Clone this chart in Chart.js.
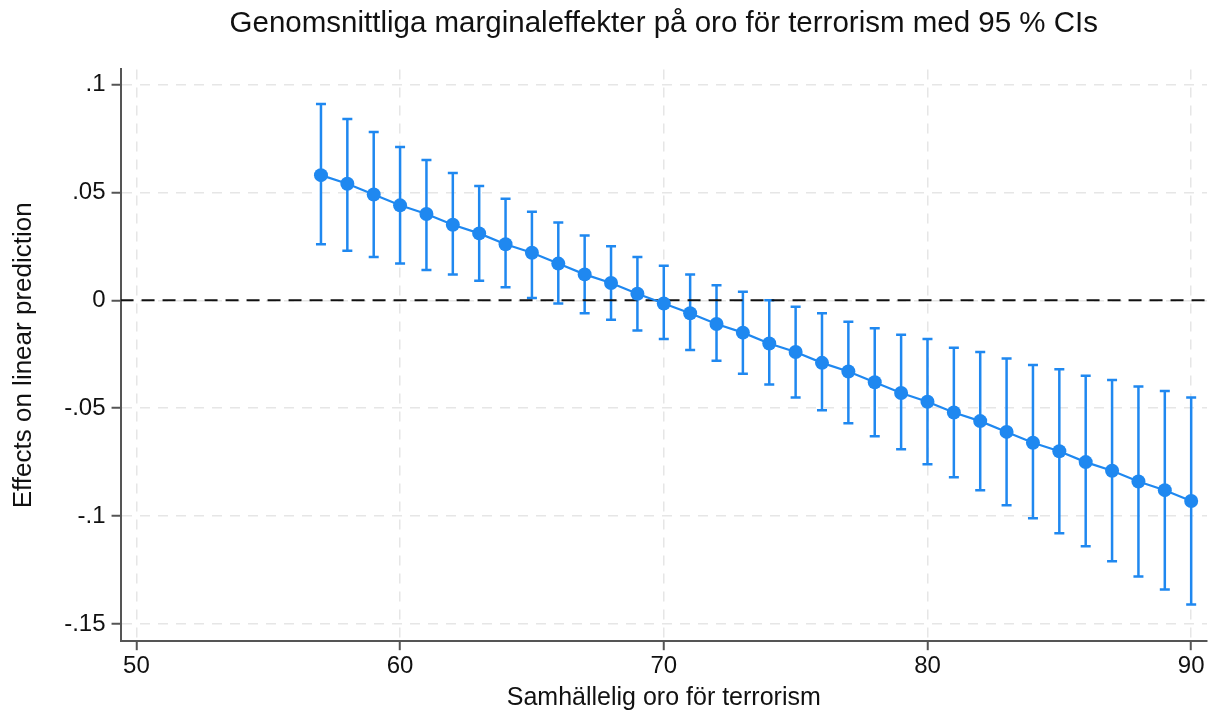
<!DOCTYPE html>
<html>
<head>
<meta charset="utf-8">
<script src="https://cdn.jsdelivr.net/npm/chart.js@4.4.1/dist/chart.umd.min.js"></script>
<style>
  body { margin: 0; background: #fff; }
  .chart { width: 1216px; height: 718px; }
</style>
</head>
<body>
<div class="chart"><canvas id="myChart" width="1216" height="718"></canvas></div>
<script>
const oro = [57, 58, 59, 60, 61, 62, 63, 64, 65, 66, 67, 68, 69, 70, 71, 72, 73,
             74, 75, 76, 77, 78, 79, 80, 81, 82, 83, 84, 85, 86, 87, 88, 89, 90];
const effekt = [0.058, 0.054, 0.049, 0.044, 0.040, 0.035, 0.031, 0.026, 0.022, 0.017,
                0.012, 0.008, 0.003, -0.0015, -0.006, -0.011, -0.015, -0.020, -0.024, -0.029,
                -0.033, -0.038, -0.043, -0.047, -0.052, -0.056, -0.061, -0.066, -0.070, -0.075,
                -0.079, -0.084, -0.088, -0.093];
const ciUpper = [0.091, 0.084, 0.078, 0.071, 0.065, 0.059, 0.053, 0.047, 0.041, 0.036,
                 0.030, 0.025, 0.020, 0.016, 0.012, 0.007, 0.004, 0.000, -0.003, -0.006,
                 -0.010, -0.013, -0.016, -0.018, -0.022, -0.024, -0.027, -0.030, -0.032, -0.035,
                 -0.037, -0.040, -0.042, -0.045];
const ciLower = [0.026, 0.023, 0.020, 0.017, 0.014, 0.012, 0.009, 0.006, 0.001, -0.0015,
                 -0.006, -0.009, -0.014, -0.018, -0.023, -0.028, -0.034, -0.039, -0.045, -0.051,
                 -0.057, -0.063, -0.069, -0.076, -0.082, -0.088, -0.095, -0.101, -0.108, -0.114,
                 -0.121, -0.128, -0.134, -0.141];
const xTicks = [50, 60, 70, 80, 90];
const yTicks = [-0.15, -0.1, -0.05, 0, 0.05, 0.1];

const blue = '#1f88f0';
const axisColor = '#555';
const font = 'Arial, "Liberation Sans", Helvetica, sans-serif';

const points = oro.map((x, i) => ({ x: x, y: effekt[i] }));

// errorbars drawn through the chart scales
const errorBars = {
    id: 'errorBars',
    beforeDatasetsDraw(chart) {
        const ctx = chart.ctx;
        const xs = chart.scales.x;
        const ys = chart.scales.y;
        ctx.save();
        ctx.strokeStyle = blue;
        ctx.lineWidth = 2.5;
        oro.forEach((x, i) => {
            const px = xs.getPixelForValue(x);
            const top = ys.getPixelForValue(ciUpper[i]);
            const bot = ys.getPixelForValue(ciLower[i]);
            ctx.beginPath();
            ctx.moveTo(px, top);
            ctx.lineTo(px, bot);
            ctx.moveTo(px - 5, top);
            ctx.lineTo(px + 5, top);
            ctx.moveTo(px - 5, bot);
            ctx.lineTo(px + 5, bot);
            ctx.stroke();
        });
        ctx.restore();
    }
};

const data = {
    datasets: [{
        label: 'noll',
        data: [{ x: 49.4, y: 0 }, { x: 90.6, y: 0 }],
        borderColor: '#111',
        borderWidth: 2,
        borderDash: [13, 8],
        pointRadius: 0,
        order: 2
    }, {
        label: 'Effekt',
        data: points,
        borderColor: blue,
        backgroundColor: blue,
        borderWidth: 2.2,
        pointRadius: 7,
        pointBorderWidth: 0,
        order: 1
    }]
};

const config = {
    type: 'line',
    data: data,
    plugins: [errorBars],
    options: {
        responsive: false,
        animation: false,
        layout: { padding: { left: 8, right: 9, top: 0, bottom: 0 } },
        plugins: {
            legend: { display: false },
            tooltip: { enabled: false },
            title: {
                display: true,
                fullSize: false,
                text: 'Genomsnittliga marginaleffekter på oro för terrorism med 95 % CIs',
                color: '#111',
                font: { family: font, size: 29.5, weight: 'normal' },
                padding: { top: 6, bottom: 28 }
            }
        },
        scales: {
            x: {
                type: 'linear',
                min: 49.4,
                max: 90.6,
                afterBuildTicks: (scale) => { scale.ticks = xTicks.map(v => ({ value: v })); },
                ticks: { color: '#111', font: { family: font, size: 24 }, padding: 2 },
                grid: {
                    color: '#e6e6e6',
                    lineWidth: 1.5,
                    tickColor: axisColor,
                    tickLength: 9,
                    tickWidth: 2
                },
                border: { color: axisColor, width: 2, dash: [10, 8] },
                title: {
                    display: true,
                    text: 'Samhällelig oro för terrorism',
                    color: '#111',
                    font: { family: font, size: 25 },
                    padding: { top: 0, bottom: 5 }
                }
            },
            y: {
                min: -0.158,
                max: 0.107,
                afterBuildTicks: (scale) => { scale.ticks = yTicks.map(v => ({ value: v })); },
                ticks: {
                    color: '#111',
                    font: { family: font, size: 24 },
                    padding: 6,
                    callback: (v) => (v === 0 ? '0' : String(v).replace('0.', '.'))
                },
                grid: {
                    color: '#e6e6e6',
                    lineWidth: 1.5,
                    tickColor: axisColor,
                    tickLength: 9,
                    tickWidth: 2
                },
                border: { color: axisColor, width: 2, dash: [10, 8] },
                title: {
                    display: true,
                    text: 'Effects on linear prediction',
                    color: '#111',
                    font: { family: font, size: 26 },
                    padding: { top: 0, bottom: 19 }
                }
            }
        }
    }
};

const myChart = new Chart(document.getElementById('myChart'), config);
</script>
</body>
</html>
